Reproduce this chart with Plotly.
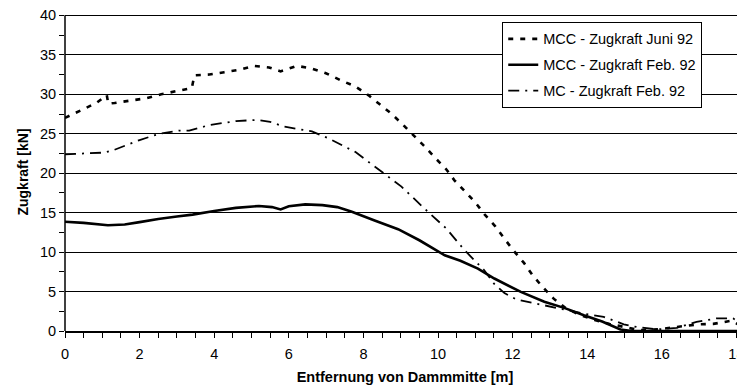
import plotly.graph_objects as go

# MCC - Zugkraft Juni 92 (dashed)
x_juni = [0, 0.4, 0.84, 1.12, 1.16, 1.33, 1.78, 2.18, 2.58, 2.98, 3.4, 3.47, 3.87, 4.27,
          4.67, 5.07, 5.47, 5.78, 6.22, 6.58, 6.98, 7.38, 7.78, 8.13, 8.44, 8.76, 9.07,
          9.33, 9.64, 9.91, 10.22, 10.44, 10.71, 11.0, 11.26, 11.53, 11.78, 12.04, 12.31,
          12.53, 12.8, 13.1, 13.42, 13.82, 14.2, 14.6, 15.0, 15.4, 15.87, 16.22, 16.62,
          16.98, 17.38, 17.87, 18.1]
y_juni = [27.0, 27.9, 28.9, 29.9, 28.8, 28.9, 29.2, 29.5, 30.0, 30.4, 30.8, 32.4, 32.5, 32.8,
          33.1, 33.6, 33.4, 32.9, 33.6, 33.3, 32.7, 31.8, 31.0, 29.9, 28.7, 27.5, 26.1,
          24.9, 23.4, 22.0, 20.5, 19.1, 17.8, 16.3, 14.7, 13.3, 11.7, 10.1, 8.6,
          7.1, 5.6, 4.1, 2.9, 2.0, 1.4, 0.9, 0.5, 0.1, 0.2, 0.4, 0.6,
          0.85, 0.9, 1.3, 0.7]

# MCC - Zugkraft Feb. 92 (solid)
x_feb = [0, 0.5, 1.15, 1.6, 2.0, 2.5, 3.0, 3.42, 4.0, 4.58, 5.2, 5.55, 5.78, 6.0, 6.44,
         6.9, 7.3, 7.69, 8.3, 8.93, 9.5, 10.18, 10.6, 11.07, 11.51, 12.22, 12.85, 13.4,
         13.91, 14.4, 14.89, 15.2, 16.0, 17.0, 18.1]
y_feb = [13.85, 13.7, 13.4, 13.5, 13.8, 14.2, 14.5, 14.75, 15.2, 15.6, 15.85, 15.7, 15.4, 15.8, 16.05,
         15.95, 15.7, 15.1, 14.0, 12.9, 11.5, 9.6, 8.9, 7.9, 6.65, 4.95, 3.7, 2.9,
         2.0, 1.2, 0.2, 0.0, 0.0, 0.0, 0.0]

# MC - Zugkraft Feb. 92 (dash-dot)
x_mc = [0, 0.5, 1.02, 1.29, 1.6, 2.0, 2.53, 3.07, 3.33, 3.87, 4.58, 5.16, 5.5, 5.87, 6.62,
        7.07, 7.78, 8.49, 9.02, 9.64, 10.22, 10.71, 11.24, 11.5, 11.78, 12.1, 12.4, 12.85,
        13.4, 13.91, 14.44, 14.98, 15.33, 15.87, 16.4, 16.93, 17.47, 17.91, 18.1]
y_mc = [22.4, 22.5, 22.6, 22.9, 23.5, 24.2, 25.0, 25.4, 25.4, 26.1, 26.6, 26.75, 26.5, 25.9, 25.3,
        24.4, 22.7, 20.2, 18.3, 15.5, 13.0, 10.25, 7.7, 6.0, 4.8, 4.0, 3.7, 3.3,
        2.8, 2.2, 1.8, 0.85, 0.5, 0.2, 0.4, 1.15, 1.6, 1.6, 1.0]

names = ["MCC - Zugkraft Juni 92", "MCC - Zugkraft Feb. 92", "MC - Zugkraft Feb. 92"]

fig = go.Figure()
fig.add_trace(go.Scatter(x=x_juni, y=y_juni, mode="lines", name=names[0], legendgroup="a",
                         line=dict(color="black", width=2.6, dash="5px,7px")))
fig.add_trace(go.Scatter(x=x_feb, y=y_feb, mode="lines", name=names[1], legendgroup="b",
                         line=dict(color="black", width=2.6)))
fig.add_trace(go.Scatter(x=x_mc, y=y_mc, mode="lines", name=names[2], legendgroup="c",
                         line=dict(color="black", width=1.8, dash="11px,6px,2px,6px")))

# the page body adds an 8px offset, margins are set to make up for it.
# y range goes a little past 40 so plotly keeps the top grid line
fig.update_layout(
    width=745, height=390,
    margin=dict(l=57, r=8, t=5, b=67),
    plot_bgcolor="white", paper_bgcolor="white",
    font=dict(family="Liberation Sans, Arial", size=14, color="black"),
    showlegend=True,
    legend=dict(x=0.643, y=0.972, xanchor="left", yanchor="top",
                bgcolor="white", bordercolor="black", borderwidth=1,
                font=dict(size=14.5), tracegroupgap=4),
)
fig.update_xaxes(range=[0, 18.23], tick0=0, dtick=2, showgrid=False, zeroline=False,
                 automargin=False, ticklabeloverflow="allow",
                 showline=True, linecolor="black", linewidth=1.5,
                 ticks="outside", ticklen=5, tickcolor="black",
                 tickfont=dict(size=14.5), ticklabelstandoff=4,
                 minor=dict(dtick=0.5, ticks="outside", ticklen=5, tickcolor="black"),
                 title=dict(text="<b>Entfernung von Dammmitte [m]</b>", font=dict(size=14.5), standoff=11))
fig.update_yaxes(range=[0, 40.3], tick0=0, dtick=5, showgrid=True, gridcolor="black", gridwidth=1,
                 zeroline=False, showline=False,
                 automargin=False, ticklabeloverflow="allow",
                 ticks="outside", ticklen=5, tickcolor="black",
                 tickfont=dict(size=14.5),
                 minor=dict(dtick=2.5, ticks="outside", ticklen=5, tickcolor="black", showgrid=False),
                 title=dict(text="<b>Zugkraft [kN]</b>", font=dict(size=14), standoff=8))
# left axis line only up to 40, like the reference
fig.add_shape(type="line", xref="paper", x0=0, x1=0, yref="y", y0=0, y1=40,
              line=dict(color="black", width=1.5), layer="above")

fig.write_html("out.html")
